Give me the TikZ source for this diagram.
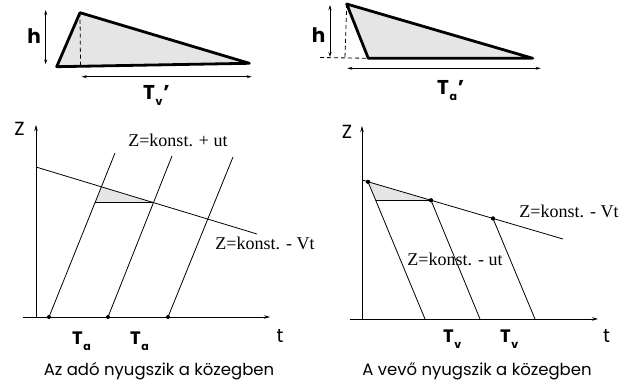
\documentclass[tikz,border=0pt]{standalone}
\usepackage{fontspec}
\setmainfont{Liberation Serif}
\newfontfamily\gothic{Poppins}
\usetikzlibrary{arrows.meta}
\newcommand\TsubX[2]{T\kern0.5pt\raisebox{-6pt}{\fontsize{11}{11}\selectfont #1}#2}
\begin{document}
\begin{tikzpicture}[x=1pt,y=-1pt,
  thinline/.style={line width=0.8pt},
  heavy/.style={line width=2.8pt, line join=round, line cap=round},
  dashline/.style={line width=0.8pt, dash pattern=on 4pt off 3pt},
  dimarrow/.style={line width=0.8pt, {Stealth[length=5pt,width=3pt]}-{Stealth[length=5pt,width=3pt]}},
  axisarrow/.style={line width=0.8pt, -{Stealth[length=6pt,width=3.5pt]}},
  dot/.style={circle, fill=black, inner sep=0pt, minimum size=4pt},
  eq/.style={font=\fontsize{18}{20}\selectfont, inner sep=0pt},
  glabel/.style={font=\gothic\fontsize{16.5}{18}\selectfont, inner sep=0pt},
  axlabel/.style={font=\gothic\fontsize{19}{21}\selectfont, inner sep=0pt},
  blabel/.style={font=\gothic\bfseries\fontsize{20}{22}\selectfont, inner sep=0pt},
  tlabel/.style={font=\gothic\bfseries\fontsize{18}{20}\selectfont, inner sep=0pt},
  shade/.style={fill=black!10}]
\useasboundingbox (0,0) rectangle (619,387);

% ---------- top left triangle ----------
\coordinate (A1) at (80,12.7);
\coordinate (B1) at (56.7,66.7);
\coordinate (C1) at (249.3,63.3);
\coordinate (D1) at (80.5,65.5);
\fill[shade] (A1) -- (C1) -- (B1) -- cycle;
\draw[dashline] (A1) -- (D1);
\draw[heavy] (B1) -- (A1) -- (C1) -- cycle;
\coordinate (h1t) at (45.7,10);
\coordinate (h1b) at (45.7,64.3);
\draw[dimarrow] (h1t) -- (h1b);
\node[blabel] (h1) at (34,36) {h};
\coordinate (w1l) at (81.7,76.7);
\coordinate (w1r) at (251.7,76.7);
\draw[dimarrow] (w1l) -- (w1r);
\node[blabel, anchor=base west] (Tv1) at (143,100) {\TsubX{v}{\kern1pt’}};

% ---------- top right triangle ----------
\coordinate (A2) at (346.7,4);
\coordinate (B2) at (368.3,58.3);
\coordinate (C2) at (532.7,58.3);
\coordinate (D2) at (345,57.5);
\coordinate (E2) at (320,57.5);
\fill[shade] (A2) -- (C2) -- (B2) -- cycle;
\draw[dashline] (A2) -- (D2);
\draw[dashline] (E2) -- (B2);
\draw[heavy] (B2) -- (A2) -- (C2) -- cycle;
\coordinate (h2t) at (330,5);
\coordinate (h2b) at (330,57);
\draw[dimarrow] (h2t) -- (h2b);
\node[blabel] (h2) at (318.5,35) {h};
\coordinate (w2l) at (347.3,68.3);
\coordinate (w2r) at (540.7,68.3);
\draw[dimarrow] (w2l) -- (w2r);
\node[blabel, anchor=base west] (Ta2) at (437,95) {\TsubX{a}{\kern1pt’}};

% ---------- left plot ----------
\coordinate (Lo) at (36,317);
\coordinate (Lz) at (36,125);
\coordinate (Lx0) at (23,317);
\coordinate (Lx) at (270,317);
\draw[axisarrow] (Lo) -- (Lz);
\draw[axisarrow] (Lx0) -- (Lx);
\node[axlabel] (LZ) at (19.5,129) {Z};
\node[axlabel, anchor=base] (Lt) at (280,343) {t};

\coordinate (Ls) at (101.4,186.8);
\coordinate (Le) at (153.5,202.6);
\coordinate (Lc) at (95.0,202.6);
\fill[shade] (Ls) -- (Le) -- (Lc) -- cycle;
\draw[thinline] (Lc) -- (Le);

\node[dot] (Ld1) at (49,317) {};
\node[dot] (Ld2) at (108,317) {};
\node[dot] (Ld3) at (168,317) {};
\coordinate (Lu1) at (115,153);
\coordinate (Lu2) at (172,156);
\coordinate (Lu3) at (233,157);
\draw[thinline] (Ld1.center) -- (Lu1);
\draw[thinline] (Ld2.center) -- (Lu2);
\draw[thinline] (Ld3.center) -- (Lu3);
\coordinate (Lv0) at (36,167);
\coordinate (Lv1) at (257,234);
\draw[thinline] (Lv0) -- (Lv1);

\node[eq] (Leq1) at (178,140) {Z=konst. + ut};
\node[eq] (Leq2) at (265,243) {Z=konst. - Vt};
\node[tlabel, anchor=base west] (LTa1) at (72,345) {\TsubX{a}{}};
\node[tlabel, anchor=base west] (LTa2) at (130,345) {\TsubX{a}{}};
\node[glabel, anchor=base] (Lcap) at (159,376) {Az adó nyugszik a közegben};

% ---------- right plot ----------
\coordinate (Ro) at (362,319);
\coordinate (Rz) at (362,126);
\coordinate (Rx0) at (350,319);
\coordinate (Rx) at (598,319);
\draw[axisarrow] (Ro) -- (Rz);
\draw[axisarrow] (Rx0) -- (Rx);
\node[axlabel] (RZ) at (347,132) {Z};
\node[axlabel, anchor=base] (Rt) at (606.5,343) {t};

\coordinate (Rv0) at (362,180);
\coordinate (Rv1) at (563,239);
\node[dot] (Rd1) at (368,181.8) {};
\node[dot] (Rd2) at (431,200.3) {};
\node[dot] (Rd3) at (493,218.5) {};
\coordinate (Rc) at (375.7,200.3);
\fill[shade] (Rd1.center) -- (Rd2.center) -- (Rc) -- cycle;
\draw[thinline] (Rc) -- (Rd2.center);
\draw[thinline] (Rv0) -- (Rv1);
\coordinate (Rb1) at (425,319);
\coordinate (Rb2) at (480,319);
\coordinate (Rb3) at (535,319);
\draw[thinline] (Rd1.center) -- (Rb1);
\draw[thinline] (Rd2.center) -- (Rb2);
\draw[thinline] (Rd3.center) -- (Rb3);
\node[dot] at (Rd1) {};
\node[dot] at (Rd2) {};
\node[dot] at (Rd3) {};

\node[eq] (Req1) at (569,211) {Z=konst. - Vt};
\node[eq] (Req2) at (455,259) {Z=konst. - ut};
\node[tlabel, anchor=base west] (RTv1) at (443,343) {\TsubX{v}{}};
\node[tlabel, anchor=base west] (RTv2) at (500,343) {\TsubX{v}{}};
\node[glabel, anchor=base] (Rcap) at (477,376) {A vevő nyugszik a közegben};
\end{tikzpicture}
\end{document}
